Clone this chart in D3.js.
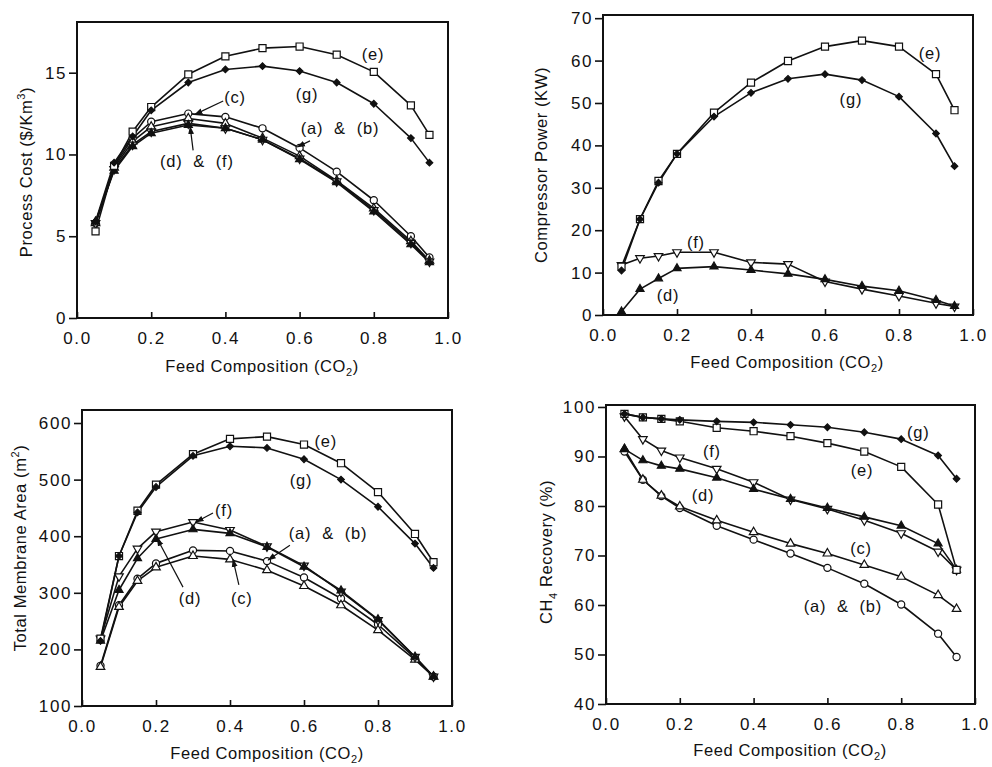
<!DOCTYPE html>
<html><head><meta charset="utf-8">
<script src="https://cdn.jsdelivr.net/npm/d3@7"></script>
<style>
body{margin:0;background:#fff}
text{font-family:"Liberation Sans",Arial,Helvetica,sans-serif;fill:#111}
</style>
</head><body><svg id="c" width="992" height="767"></svg>
<script>
// ---------- data ----------
const feed = [0.05, 0.1, 0.15, 0.2, 0.3, 0.4, 0.5, 0.6, 0.7, 0.8, 0.9, 0.95];
const xTicks = [0, 0.2, 0.4, 0.6, 0.8, 1.0];

// Process cost ($/Km3)
const costAB = [5.8, 9.3, 11.0, 12.0, 12.5, 12.3, 11.6, 10.4, 8.95, 7.2, 5.0, 3.7];
const costC  = [5.8, 9.2, 10.8, 11.7, 12.2, 11.9, 11.0, 9.9, 8.4, 6.7, 4.7, 3.5];
const costD  = [5.9, 9.0, 10.5, 11.3, 11.8, 11.6, 10.9, 9.7, 8.3, 6.5, 4.5, 3.4];
const costF  = [5.8, 9.1, 10.6, 11.4, 11.9, 11.6, 10.9, 9.75, 8.35, 6.6, 4.6, 3.45];
const costE  = [5.3, 9.3, 11.4, 12.9, 14.9, 16.0, 16.5, 16.6, 16.1, 15.05, 13.0, 11.2];
const costG  = [5.9, 9.5, 11.1, 12.7, 14.4, 15.2, 15.4, 15.1, 14.4, 13.1, 11.0, 9.5];
const costTicks = [0, 5, 10, 15];

// Compressor power (KW)
const powerD = [0.8, 6.1, 8.6, 11.0, 11.4, 10.6, 9.7, 8.4, 6.8, 5.7, 3.5, 2.1];
const powerE = [11.4, 22.6, 31.6, 38.0, 47.7, 54.8, 59.9, 63.3, 64.7, 63.3, 56.8, 48.3];
const powerF = [11.8, 13.4, 13.9, 14.8, 14.8, 12.4, 12.0, 7.9, 6.1, 4.5, 2.75, 2.0];
const powerG = [10.5, 22.6, 31.2, 38.0, 46.8, 52.4, 55.7, 56.8, 55.4, 51.5, 42.8, 35.1];
const powerTicks = [0, 10, 20, 30, 40, 50, 60, 70];

// Total membrane area (m2)
const areaAB = [171, 278, 325, 352, 375, 374, 356, 327, 290, 244, 185, 152];
const areaC  = [169, 275, 321, 345, 365, 359, 340, 312, 278, 234, 182, 152];
const areaD  = [215, 305, 361, 395, 412, 405, 381, 346, 304, 253, 187, 152];
const areaE  = [219, 365, 445, 491, 545, 572, 576, 562, 529, 478, 404, 354];
const areaF  = [219, 329, 378, 408, 425, 411, 382, 348, 302, 252, 187, 152];
const areaG  = [215, 365, 442, 487, 542, 559, 556, 536, 500, 452, 387, 344];
const areaTicks = [100, 200, 300, 400, 500, 600];

// CH4 recovery (%)
const recAB = [91.0, 85.3, 82.0, 79.6, 76.0, 73.2, 70.4, 67.5, 64.3, 60.1, 54.2, 49.5];
const recC  = [91.5, 85.3, 82.1, 79.9, 77.1, 74.7, 72.4, 70.4, 68.1, 65.7, 62.0, 59.2];
const recD  = [91.5, 89.2, 88.1, 87.5, 85.7, 83.4, 81.4, 79.6, 77.8, 76.0, 72.4, 67.1];
const recE  = [98.6, 97.9, 97.6, 97.1, 95.8, 95.1, 94.1, 92.7, 91.0, 87.9, 80.3, 67.1];
const recF  = [98.1, 93.5, 91.2, 89.8, 87.5, 84.8, 81.3, 79.4, 77.1, 74.5, 70.8, 67.1];
const recG  = [98.6, 97.9, 97.6, 97.4, 97.1, 96.9, 96.4, 95.9, 94.9, 93.5, 90.2, 85.5];
const recTicks = [40, 50, 60, 70, 80, 90, 100];

// annotation labels (data coordinates) and leader lines [from, to]
const costNotes = [
  {t: "(e)", x: 0.798, y: 16.1}, {t: "(g)", x: 0.62, y: 13.7},
  {t: "(c)", x: 0.426, y: 13.5, lead: [[0.394, 13.27], [0.318, 12.45]]},
  {t: "(a)  &  (b)", x: 0.709, y: 11.6, lead: [[0.628, 10.83], [0.594, 10.46]]},
  {t: "(d)  &  (f)", x: 0.323, y: 9.6, lead: [[0.313, 10.25], [0.305, 11.7]]}
];
const powerNotes = [
  {t: "(e)", x: 0.884, y: 61.8}, {t: "(g)", x: 0.67, y: 50.9},
  {t: "(f)", x: 0.251, y: 17.2}, {t: "(d)", x: 0.176, y: 4.7}
];
const areaNotes = [
  {t: "(e)", x: 0.659, y: 568}, {t: "(g)", x: 0.592, y: 499},
  {t: "(f)", x: 0.384, y: 446, lead: [[0.354, 441], [0.308, 425]]},
  {t: "(a)  &  (b)", x: 0.665, y: 406, lead: [[0.562, 384], [0.503, 358]]},
  {t: "(d)", x: 0.292, y: 291, lead: [[0.273, 310], [0.203, 396]]},
  {t: "(c)", x: 0.432, y: 291, lead: [[0.424, 314], [0.408, 359]]}
];
const recNotes = [
  {t: "(g)", x: 0.846, y: 95.0}, {t: "(e)", x: 0.694, y: 87.3},
  {t: "(f)", x: 0.287, y: 91.1}, {t: "(d)", x: 0.263, y: 82.2},
  {t: "(c)", x: 0.691, y: 71.5}, {t: "(a)  &  (b)", x: 0.642, y: 59.8}
];

// ---------- drawing ----------
const svg = d3.select("#c");
const marker = {
  ab: {type: d3.symbolCircle, size: 40, fill: "#fff"},
  c:  {type: d3.symbolTriangle, size: 32, fill: "#fff"},
  d:  {type: d3.symbolTriangle, size: 28, fill: "#111"},
  e:  {type: d3.symbolSquare, size: 50, fill: "#fff"},
  f:  {type: d3.symbolTriangle, size: 32, fill: "#fff", rot: 180},
  g:  {type: d3.symbolSquare, size: 22, fill: "#111", rot: 45}
};

svg.append("defs").append("marker")
  .attr("id", "arr").attr("viewBox", "0 0 10 10").attr("refX", 9).attr("refY", 5)
  .attr("markerWidth", 7).attr("markerHeight", 7).attr("orient", "auto")
  .append("path").attr("d", "M0,1.5L10,5L0,8.5Z").attr("fill", "#111");

function panel(cfg) {
  const x = d3.scaleLinear().domain([0, 1]).range([cfg.l, cfg.r]);
  const y = d3.scaleLinear().domain(cfg.yDom).range([cfg.b, cfg.t]);
  const g = svg.append("g");

  const ya = g.append("g").attr("transform", `translate(${cfg.l},0)`)
    .call(d3.axisLeft(y).tickValues(cfg.yTicks).tickSize(8).tickPadding(2).tickFormat(d3.format("d")));
  const xa = g.append("g").attr("transform", `translate(0,${cfg.b})`)
    .call(d3.axisBottom(x).tickValues(xTicks).tickSizeInner(-6).tickSizeOuter(0).tickPadding(10).tickFormat(d3.format(".1f")));
  [ya, xa].forEach(a => {
    a.select(".domain").remove();
    a.selectAll("line").attr("stroke", "#111").attr("stroke-width", 1.6);
    a.selectAll("text").attr("font-size", 17).attr("letter-spacing", 1.6).attr("fill", "#111")
      .attr("font-family", '"Liberation Sans",Arial,sans-serif');
  });
  xa.selectAll("text").attr("dy", "0.95em");

  g.append("rect").attr("x", cfg.l).attr("y", cfg.t).attr("width", cfg.r - cfg.l)
    .attr("height", cfg.b - cfg.t).attr("fill", "none").attr("stroke", "#111").attr("stroke-width", 2);

  const line = d3.line().x((d, i) => x(feed[i])).y(d => y(d));
  cfg.series.forEach(s => {
    g.append("path").datum(s.v).attr("d", line).attr("fill", "none")
      .attr("stroke", "#111").attr("stroke-width", 1.6).attr("stroke-linejoin", "round");
  });
  cfg.series.forEach(s => {
    const m = marker[s.m];
    const sym = d3.symbol().type(m.type).size(m.size);
    g.append("g").selectAll("path").data(s.v).join("path")
      .attr("d", sym)
      .attr("transform", (d, i) => `translate(${x(feed[i])},${y(d)})` + (m.rot ? ` rotate(${m.rot})` : ""))
      .attr("fill", m.fill).attr("stroke", "#111").attr("stroke-width", 1.2);
  });

  cfg.notes.forEach(n => {
    g.append("text").attr("x", x(n.x)).attr("y", y(n.y)).attr("dy", "0.35em")
      .attr("text-anchor", "middle").attr("font-size", 16.5).attr("letter-spacing", 0.8)
      .attr("xml:space", "preserve").style("white-space", "pre").text(n.t);
    if (n.lead) {
      g.append("line").attr("x1", x(n.lead[0][0])).attr("y1", y(n.lead[0][1]))
        .attr("x2", x(n.lead[1][0])).attr("y2", y(n.lead[1][1]))
        .attr("stroke", "#111").attr("stroke-width", 1.2).attr("marker-end", "url(#arr)");
    }
  });

  const xt = g.append("text").attr("x", cfg.xtx).attr("y", cfg.xty).attr("text-anchor", "middle")
    .attr("font-size", 16.5).attr("letter-spacing", 0.6);
  xt.append("tspan").text("Feed Composition (CO");
  xt.append("tspan").attr("dy", 4).attr("font-size", 11).text("2");
  xt.append("tspan").attr("dy", -4).text(")");

  const yt = g.append("text").attr("transform", `translate(${cfg.ytx},${cfg.yty}) rotate(-90)`)
    .attr("text-anchor", "middle").attr("font-size", 16.5).attr("letter-spacing", 0.6);
  cfg.ytitle.forEach(p => {
    const ts = yt.append("tspan").text(p.t);
    if (p.dy) ts.attr("dy", p.dy);
    if (p.fs) ts.attr("font-size", p.fs);
  });
}

panel({
  l: 77, r: 448, t: 22, b: 318, yDom: [0, 18.1], yTicks: costTicks,
  series: [{v: costAB, m: "ab"}, {v: costC, m: "c"}, {v: costF, m: "f"}, {v: costD, m: "d"}, {v: costE, m: "e"}, {v: costG, m: "g"}],
  notes: costNotes, xtx: 262, xty: 372, ytx: 32, yty: 172,
  ytitle: [{t: "Process Cost ($/Km"}, {t: "3", dy: -7, fs: 11}, {t: ")", dy: 7}]
});
panel({
  l: 603, r: 973, t: 15, b: 315, yDom: [0, 70.75], yTicks: powerTicks,
  series: [{v: powerF, m: "f"}, {v: powerD, m: "d"}, {v: powerE, m: "e"}, {v: powerG, m: "g"}],
  notes: powerNotes, xtx: 787, xty: 368, ytx: 547, yty: 165,
  ytitle: [{t: "Compressor Power (KW)"}]
});
panel({
  l: 82, r: 452, t: 410, b: 706, yDom: [100, 623], yTicks: areaTicks,
  series: [{v: areaAB, m: "ab"}, {v: areaC, m: "c"}, {v: areaF, m: "f"}, {v: areaD, m: "d"}, {v: areaE, m: "e"}, {v: areaG, m: "g"}],
  notes: areaNotes, xtx: 267, xty: 759, ytx: 26, yty: 548,
  ytitle: [{t: "Total Membrane Area (m"}, {t: "2", dy: -7, fs: 11}, {t: ")", dy: 7}]
});
panel({
  l: 606, r: 975, t: 405, b: 704, yDom: [40, 100.4], yTicks: recTicks,
  series: [{v: recAB, m: "ab"}, {v: recC, m: "c"}, {v: recF, m: "f"}, {v: recD, m: "d"}, {v: recE, m: "e"}, {v: recG, m: "g"}],
  notes: recNotes, xtx: 790, xty: 756, ytx: 552, yty: 552,
  ytitle: [{t: "CH"}, {t: "4", dy: 5, fs: 11}, {t: " Recovery (%)", dy: -5}]
});
</script>
</body></html>
